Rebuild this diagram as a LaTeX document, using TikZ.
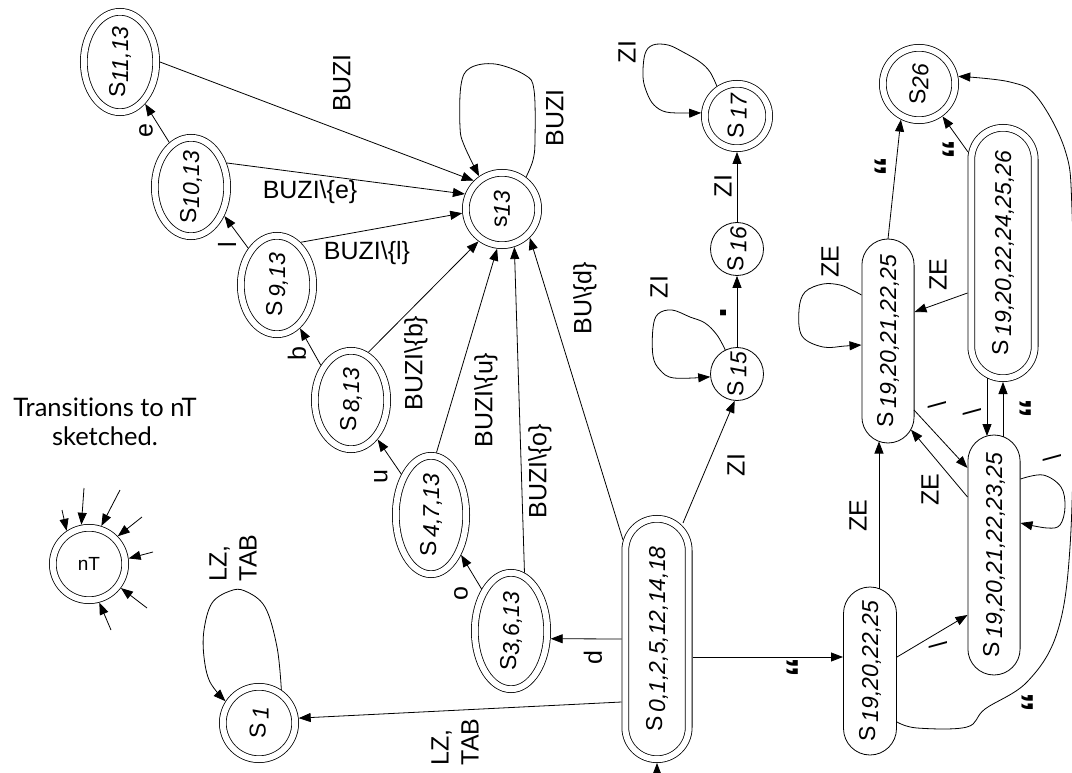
\documentclass[tikz,border=0pt]{standalone}
\usepackage{fontspec}
\setmainfont{Liberation Sans}
\newfontfamily\notefont{Lato}[Ligatures=NoCommon]
\usetikzlibrary{arrows.meta,calc,shapes.geometric,shapes.misc}
\newcommand\sub[1]{\raisebox{-3pt}{\itshape #1}}
\newcommand\bsl{\textbackslash}
\newcommand\qm{{\fontsize{40}{40}\bfseries “}}
\begin{document}
\begin{tikzpicture}[x=1pt,y=-1pt,line width=0.8pt,
  >={Triangle[length=12pt,width=9pt]},
  st/.style={draw,line width=0.8pt,inner sep=0pt,outer sep=0.4pt},
  acc/.style={double,double distance=6pt,outer sep=3.8pt},
  dcirc/.style={st,acc,circle,minimum size=72.4pt},
  scirc/.style={st,circle,minimum size=53pt},
  dell/.style={st,acc,ellipse},
  pill/.style={st,rounded rectangle,rotate=90},
  stxt/.style={rotate=90,inner sep=0pt,font=\fontsize{23}{27}\selectfont},
  lab/.style={rotate=90,inner sep=0pt,font=\fontsize{25}{30}\selectfont,align=left},
  hlab/.style={inner sep=0pt,font=\fontsize{25}{30}\selectfont},
  arr/.style={->},
  loopline/.style={->,smooth,tension=0.6}]
\useasboundingbox (0,0) rectangle (1072,773);

% ---------- states ----------
\node[pill,acc,minimum width=240.4pt,minimum height=63.4pt] (S0) at (657,639) {};
\node[stxt] (S0t) at (S0) {S\,\sub{0,1,2,5,12,14,18}};
\node[dcirc] (s1) at (259,723) {};
\node[stxt] (s1t) at (s1) {S\,\sub{1}};
\node[dcirc,font=\fontsize{19}{22}\selectfont] (nT) at (89,564) {nT};
\node[dell,minimum width=72.4pt,minimum height=116.4pt] (s3) at (511,631) {};
\node[stxt] (s3t) at (s3) {S\kern-1pt\sub{3,6,13}};
\node[dell,minimum width=70.4pt,minimum height=118.4pt] (s4) at (431,515) {};
\node[stxt] (s4t) at (s4) {S\,\sub{4,7,13}};
\node[dell,minimum width=72.4pt,minimum height=98.4pt] (s8) at (351,400) {};
\node[stxt] (s8t) at (s8) {S\,\sub{8,13}};
\node[dell,minimum width=72.4pt,minimum height=98.4pt] (s9) at (277,285) {};
\node[stxt] (s9t) at (s9) {S\,\sub{9,13}};
\node[dell,minimum width=72.4pt,minimum height=98.4pt] (s10) at (191,187) {};
\node[stxt] (s10t) at (s10) {S\sub{10,13}};
\node[dell,minimum width=72.4pt,minimum height=100.4pt] (s11) at (120,62) {};
\node[stxt] (s11t) at (s11) {S\sub{11,13}};
\node[dcirc] (s13) at (502,209) {};
\node[stxt] (s13t) at (s13) {s\sub{13}};
\node[scirc] (s15) at (737,374) {};
\node[stxt] (s15t) at (s15) {S\,\sub{15}};
\node[scirc] (s16) at (737,249) {};
\node[stxt] (s16t) at (s16) {S\,\sub{16}};
\node[dcirc,minimum size=64.4pt] (s17) at (737,116) {};
\node[stxt] (s17t) at (s17) {S\,\sub{17}};
\node[dcirc] (s26) at (919,84) {};
\node[stxt] (s26t) at (s26) {S\sub{26}};
\node[pill,minimum width=204pt,minimum height=52.2pt] (P21) at (888,341) {};
\node[stxt] (P21t) at (P21) {S\,\sub{19,20,21,22,25}};
\node[pill,acc,minimum width=250.4pt,minimum height=63.4pt] (P26) at (1003,253) {};
\node[stxt] (P26t) at (P26) {S\,\sub{19,20,22,24,25,26}};
\node[pill,minimum width=240pt,minimum height=52.2pt] (P23) at (994,555) {};
\node[stxt] (P23t) at (P23) {S\,\sub{19,20,21,22,23,25}};
\node[pill,minimum width=168pt,minimum height=53pt] (P19) at (870,671) {};
\node[stxt] (P19t) at (P19) {S\,\sub{19,20,22,25}};

\node[font=\notefont\fontsize{25.5}{29}\selectfont,align=center,inner sep=0pt] (note) at (105,422) {Transitions to nT\\sketched.};

% ---------- helper coordinates ----------
\coordinate (init) at (657,775);
\coordinate (S0b) at ($(S0)+(0,124)$);
\coordinate (S0a) at ($(S0)+(-35.5,63)$);
\coordinate (S0d) at ($(S0)+(-35.5,0)$);
\coordinate (S0u) at ($(S0)+(-34,-99)$);
\coordinate (S0z) at ($(S0)+(26,-116)$);
\coordinate (S0q) at ($(S0)+(35.5,18)$);
\coordinate (P19a) at ($(P19)+(-27,-14)$);
\coordinate (P19b) at ($(P19)+(9,-82.5)$);
\coordinate (P19c) at ($(P19)+(27,-14)$);
\coordinate (P19d) at ($(P19)+(27,51)$);
\coordinate (P21a) at ($(P21)+(-9,100.5)$);
\coordinate (P21b) at ($(P21)+(26,69)$);
\coordinate (P21c) at ($(P21)+(23,88.7)$);
\coordinate (P21d) at ($(P21)+(0,-102)$);
\coordinate (P21e) at ($(P21)+(26.5,-29)$);
\coordinate (P21f) at ($(P21)+(-26.5,-46)$);
\coordinate (P21g) at ($(P21)+(-26.5,4)$);
\coordinate (P23a) at ($(P23)+(-26.5,60)$);
\coordinate (P23b) at ($(P23)+(-26.5,-87)$);
\coordinate (P23c) at ($(P23)+(-26.5,-58)$);
\coordinate (P23d) at ($(P23)+(-7,-119)$);
\coordinate (P23e) at ($(P23)+(9,-118.4)$);
\coordinate (P23f) at ($(P23)+(26.5,-76)$);
\coordinate (P23g) at ($(P23)+(26.5,-32)$);
\coordinate (P26a) at ($(P26)+(-16,125)$);
\coordinate (P26b) at ($(P26)+(0,129)$);
\coordinate (P26c) at ($(P26)+(-35,-101)$);
\coordinate (P26d) at ($(P26)+(-35.5,40)$);

% ---------- connectors ----------
\draw[arr] (init) -- (S0b);
\draw[arr] (S0a) -- (s1.7);
\draw[loopline] plot coordinates {(s1.56) (277,647) (265,607) (245,591) (230,591) (212,603) (204,630) (204,657) (210,682) (s1.147)};
\draw[arr] (S0d) -- (s3.-11.4);
\draw[arr] (s3.125) -- (s4.-53);
\draw[arr] (s4.126) -- (s8.-56);
\draw[arr] (s8.131) -- (s9.-62);
\draw[arr] (s9.128) -- (s10.-41);
\draw[arr] (s10.116) -- (s11.-59);
\draw[arr] (s11.0) -- (s13.135);
\draw[arr] (s10.34) -- (s13.158);
\draw[arr] (s9.61) -- (s13.-174);
\draw[arr] (s8.70) -- (s13.-126);
\draw[arr] (s4.85) -- (s13.-97);
\draw[arr] (s3.77) -- (s13.-72);
\draw[arr] (S0u) -- (s13.-46);
\draw[loopline] plot coordinates {(s13.53) (533,160) (535,140) (534,90) (525,75) (495,64) (470,68) (461,85) (460,127) (464,145) (s13.125)};
\draw[arr] (S0z) -- (s15.-95);
\draw[loopline] plot coordinates {(s15.116) (717,335) (705,323) (690,317) (672,310) (658,314) (653,328) (653,356) (660,370) (674,378) (s15.-174)};
\draw[arr] (s15) -- (s16);
\draw[arr] (s16) -- (s17);
\draw[loopline] plot coordinates {(s17.124) (710,72) (700,62) (683,52) (668,45) (653,45) (645,54) (643,77) (647,93) (654,105) (666,112) (686,113) (s17.175)};
\draw[arr] (S0q) -- (P19a);
\draw[arr] (P19b) -- (P21a);
\draw[arr] (P19c) -- (P23a);
\draw[arr] (P21b) -- (P23b);
\draw[arr] (P23c) -- (P21c);
\draw[arr] (P26a) -- (P23d);
\draw[arr] (P23e) -- (P26b);
\draw[loopline] plot coordinates {(P23f) (1043,475) (1061,487) (1065,507) (1060,525) (1047,528) (P23g)};
\draw[loopline] plot coordinates {(P19d) (917,728) (967,727) (985,709) (1027,682) (1057,633) (1070,547) (1074,380) (1072,210) (1065,150) (1037,97) (1010,82) (s26.11)};
\draw[arr] (P21d) -- (s26.-117);
\draw[arr] (P26c) -- (s26.-54);
\draw[arr] (P26d) -- (P21e);
\draw[loopline] plot coordinates {(P21f) (852,290) (840,285) (823,284) (805,292) (799,310) (802,336) (823,347) (845,346) (P21g)};

% nT sketch arrows
\coordinate (t1) at (62,510);
\coordinate (t2) at (84,488);
\coordinate (t3) at (120,490);
\coordinate (t4) at (142,517);
\coordinate (t5) at (153,552);
\coordinate (t6) at (147,608);
\coordinate (t7) at (111,630);
\draw[arr] (t1) -- (nT.124);
\draw[arr] (t2) -- (nT.101);
\draw[arr] (t3) -- (nT.72);
\draw[arr] (t4) -- (nT.44);
\draw[arr] (t5) -- (nT.8);
\draw[arr] (t6) -- (nT.-37);
\draw[arr] (t7) -- (nT.-75);

% ---------- labels ----------
\node[lab] (l1) at (455,742) {LZ,\\TAB};
\node[lab] (l2) at (233,558) {LZ,\\TAB};
\node[lab] (l3) at (593,658) {d};
\node[lab] (l4) at (461,594) {o};
\node[lab] (l5) at (381,477) {u};
\node[lab] (l6) at (297,354) {b};
\node[lab] (l7) at (227,245) {l};
\node[lab] (l8) at (146,131) {e};
\node[lab] (l9) at (342,83) {BUZI};
\node[hlab] (l10) at (310,192) {BUZI\bsl\{e\}};
\node[hlab] (l11) at (367,253) {BUZI\bsl\{l\}};
\node[lab] (l12) at (416,363) {BUZI\bsl\{b\}};
\node[lab] (l13) at (486,400) {BUZI\bsl\{u\}};
\node[lab] (l14) at (540,471) {BUZI\bsl\{o\}};
\node[lab] (l15) at (585,298) {BU\bsl\{d\}};
\node[lab] (l16) at (555,118) {BUZI};
\node[lab] (l17) at (736,465) {ZI};
\node[lab] (l18) at (659,287) {ZI};
\node[lab,font=\fontsize{40}{40}\bfseries] (l19) at (724,313) {.};
\node[lab] (l20) at (723,186) {ZI};
\node[lab] (l21) at (627,52) {ZI};
\node[lab] (l22) at (801,667) {\qm};
\node[lab] (l23) at (858,516) {ZE};
\node[lab] (l24) at (938,645) {\bsl};
\node[lab] (l25) at (937,405) {\bsl};
\node[lab] (l26) at (930,490) {ZE};
\node[lab] (l27) at (972,412) {\bsl};
\node[lab] (l28) at (1034,408) {\qm};
\node[lab] (l29) at (1052,458) {\bsl};
\node[lab] (l30) at (1036,702) {\qm};
\node[lab] (l31) at (889,167) {\qm};
\node[lab] (l32) at (957,150) {\qm};
\node[lab] (l33) at (938,275) {ZE};
\node[lab] (l34) at (830,262) {ZE};
\end{tikzpicture}
\end{document}
